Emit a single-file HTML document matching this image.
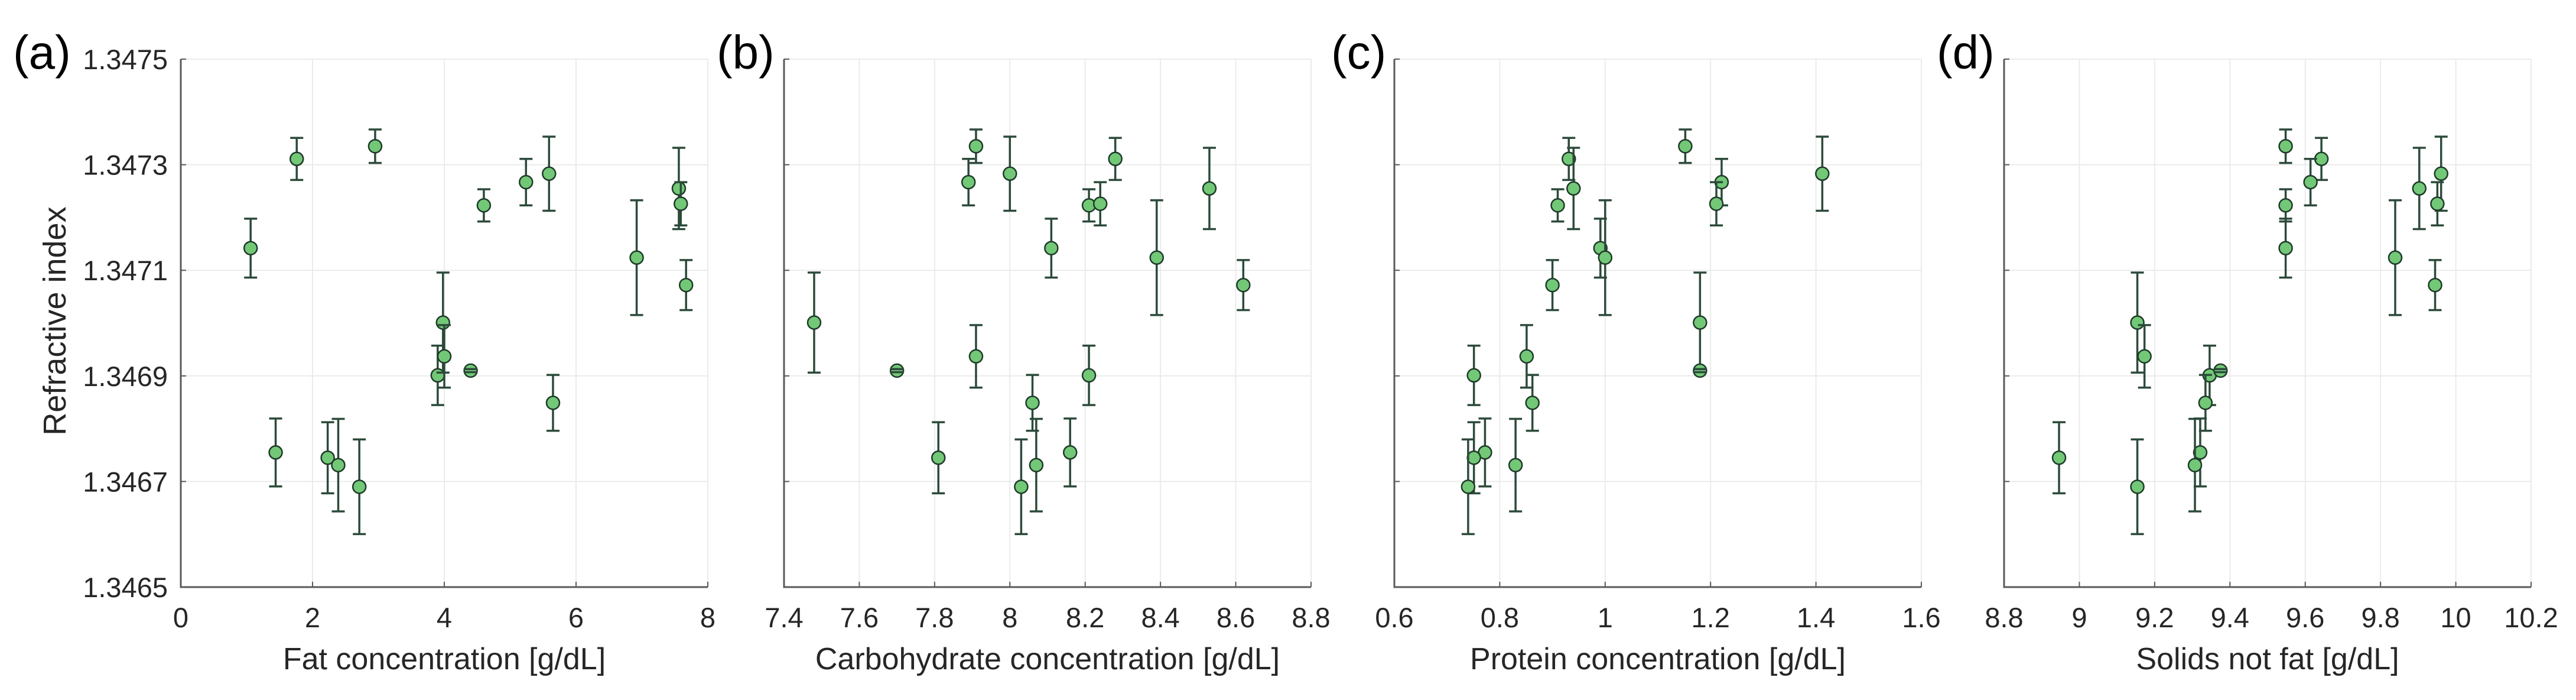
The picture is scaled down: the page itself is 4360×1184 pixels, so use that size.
<!DOCTYPE html>
<html><head><meta charset="utf-8">
<style>
html,body{margin:0;padding:0;background:#fff;}
svg{display:block;}
text{font-family:"Liberation Sans",Arial,sans-serif;fill:#262626;}
</style></head>
<body>
<svg id="fig" width="4360" height="1184" viewBox="0 0 4360 1184" xmlns="http://www.w3.org/2000/svg"></svg>
<script>
// Shared y data (refractive index per sample) and error half-widths
const riValues = [1.347142,1.346755,1.347311,1.346745,1.346731,1.346690,1.347335,1.346901,1.347001,1.346937,1.346910,1.347223,1.347267,1.347283,1.346849,1.347124,1.347255,1.347226,1.347072];
const riErrors = [0.0000558,0.0000643,0.0000398,0.0000673,0.0000876,0.0000897,0.0000317,0.0000563,0.0000948,0.0000592,0.000003,0.0000305,0.000044,0.0000702,0.0000529,0.0001087,0.000077,0.000041,0.0000474];
// x values per panel (same sample order)
const fatValues     = [1.06,1.44,1.76,2.23,2.39,2.71,2.95,3.90,3.98,4.00,4.40,4.60,5.24,5.59,5.65,6.92,7.56,7.59,7.67];
const carbValues    = [8.11,8.16,8.28,7.81,8.07,8.03,7.91,8.21,7.48,7.91,7.70,8.21,7.89,8.00,8.06,8.39,8.53,8.24,8.62];
const proteinValues = [0.991,0.772,0.931,0.751,0.83,0.74,1.152,0.751,1.18,0.851,1.18,0.91,1.221,1.412,0.862,1.0,0.94,1.211,0.90];
const snfValues     = [9.548,9.321,9.643,8.946,9.307,9.154,9.548,9.346,9.154,9.173,9.375,9.548,9.614,9.961,9.335,9.839,9.903,9.951,9.945];
const yTicks = [1.3465,1.3467,1.3469,1.3471,1.3473,1.3475];
const yTickLabels = ["1.3465","1.3467","1.3469","1.3471","1.3473","1.3475"];
const fatTicks = [0,2,4,6,8];
const carbTicks = [7.4,7.6,7.8,8,8.2,8.4,8.6,8.8];
const proteinTicks = [0.6,0.8,1,1.2,1.4,1.6];
const snfTicks = [8.8,9,9.2,9.4,9.6,9.8,10,10.2];

const NS="http://www.w3.org/2000/svg";
const svg=document.getElementById('fig');
function mk(tag,attrs,parent){const e=document.createElementNS(NS,tag);for(const k in attrs)e.setAttribute(k,attrs[k]);(parent||svg).appendChild(e);return e;}

const TOP=100,H=893,W=892;
const panels=[
 {left:306,xs:fatValues,ticks:fatTicks,min:0,max:8,label:"Fat concentration [g/dL]",letter:"(a)",key:"fat",yl:true,lx:22},
 {left:1327,xs:carbValues,ticks:carbTicks,min:7.4,max:8.8,label:"Carbohydrate concentration [g/dL]",letter:"(b)",key:"carbohydrate",yl:false,lx:1213},
 {left:2360,xs:proteinValues,ticks:proteinTicks,min:0.6,max:1.6,label:"Protein concentration [g/dL]",letter:"(c)",key:"protein",yl:false,lx:2253},
 {left:3392,xs:snfValues,ticks:snfTicks,min:8.8,max:10.2,label:"Solids not fat [g/dL]",letter:"(d)",key:"solids-not-fat",yl:false,lx:3278}
];
const fmt=v=>String(Math.round(v*10)/10);
panels.forEach(p=>{
  const g=mk('g',{});
  
  
  const xs=v=>p.left+(v-p.min)/(p.max-p.min)*W;
  const ys=v=>TOP+H-(v-1.3465)/0.001*H;
  p.ticks.forEach(t=>{const l=mk('line',{x1:xs(t),x2:xs(t),y1:TOP,y2:TOP+H,stroke:'#ebebeb','stroke-width':2},g);
    
    });
  yTicks.forEach(t=>{const l=mk('line',{x1:p.left,x2:p.left+W,y1:ys(t),y2:ys(t),stroke:'#ebebeb','stroke-width':2},g);
    
    });
  const ax=mk('path',{d:`M${p.left} ${TOP}V${TOP+H}H${p.left+W}`,fill:'none',stroke:'#5a5a5a','stroke-width':3},g);
  
  
  p.ticks.forEach(t=>{mk('line',{x1:xs(t),x2:xs(t),y1:TOP+H,y2:TOP+H-9,stroke:'#5a5a5a','stroke-width':2},g);
    const tx=mk('text',{x:xs(t),y:1061,'text-anchor':'middle','font-size':47},g);tx.textContent=fmt(t);
    
    });
  yTicks.forEach((t,i)=>{mk('line',{x1:p.left,x2:p.left+9,y1:ys(t),y2:ys(t),stroke:'#5a5a5a','stroke-width':2},g);
    if(p.yl){const tx=mk('text',{x:284,y:ys(t)+17,'text-anchor':'end','font-size':47},g);tx.textContent=yTickLabels[i];
      
      }});
  const xl=mk('text',{x:p.left+W/2,y:1132,'text-anchor':'middle','font-size':52},g);xl.textContent=p.label;
  
  
  const lt=mk('text',{x:p.lx,y:116,'font-size':80,style:'fill:#000'},g);lt.textContent=p.letter;
  
  
  if(p.yl){const yt=mk('text',{x:0,y:0,'text-anchor':'middle','font-size':54,transform:'translate(111,543) rotate(-90)'},g);yt.textContent='Refractive index';
    
    }
  p.xs.forEach((xv,i)=>{
    const cx=xs(xv),cy=ys(riValues[i]),t=ys(riValues[i]+riErrors[i]),b=ys(riValues[i]-riErrors[i]);
    const eb=mk('path',{d:`M${cx} ${t}V${b}`,stroke:'#2c4a3a','stroke-width':3.5,fill:'none'},g);
    
    
    const c=mk('circle',{cx:cx,cy:cy,r:11,fill:'#72c876',stroke:'#1f3a2a','stroke-width':2.5},g);
    
    
    const cap=mk('path',{d:`M${cx-11} ${t}H${cx+11}M${cx-11} ${b}H${cx+11}`,stroke:'#2c4a3a','stroke-width':3.5,fill:'none'},g);
    
    
  });
});
</script>
</body></html>
